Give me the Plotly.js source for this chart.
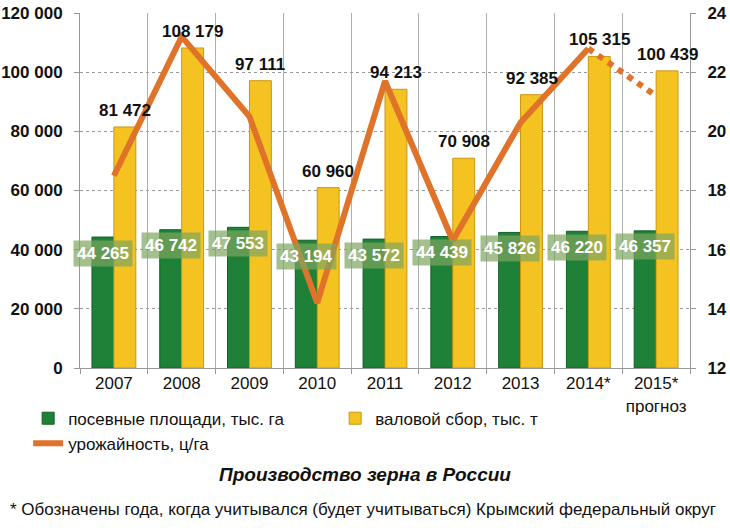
<!DOCTYPE html>
<html>
<head>
<meta charset="utf-8">
<script src="https://cdn.plot.ly/plotly-3.0.1.min.js"></script>
<style>html,body{margin:0;padding:0;background:#fff;}#chart{width:730px;height:528px;}</style>
</head>
<body>
<div id="chart"></div>
<script>
var categories = ["2007", "2008", "2009", "2010", "2011", "2012", "2013", "2014*", "2015*"];
var tickLabels = ["2007", "2008", "2009", "2010", "2011", "2012", "2013", "2014*", "2015*<br>прогноз"];
var sownArea = [44265, 46742, 47553, 43194, 43572, 44439, 45826, 46220, 46357];
var grossHarvest = [81472, 108179, 97111, 60960, 94213, 70908, 92385, 105315, 100439];
var yieldCats = ["2007", "2008", "2009", "2010", "2011", "2012", "2013", "2014*"];
var yieldValues = [18.5, 23.2, 20.5, 14.2, 21.7, 16.3, 20.3, 22.8];
var forecastCats = ["2014*", "2015*"];
var forecastYield = [22.8, 21.2];
var leftTicks = [0, 20000, 40000, 60000, 80000, 100000, 120000];
var rightTicks = [12, 14, 16, 18, 20, 22, 24];

function fmt(v) { return String(v).replace(/\B(?=(\d{3})+(?!\d))/g, " "); }

var SANS = "Liberation Sans, Arial, sans-serif";
var catIndex = categories.map(function (c, i) { return i; });

var traces = [
  {
    type: "bar", name: "посевные площади, тыс. га", x: categories, y: sownArea,
    marker: {color: "#1f8138", line: {color: "#136024", width: 1}},
    hoverinfo: "skip"
  },
  {
    type: "bar", name: "валовой сбор, тыс. т", x: categories, y: grossHarvest,
    marker: {color: "#f4c322", line: {color: "#c9980f", width: 1}},
    hoverinfo: "skip"
  },
  {
    type: "scatter", mode: "lines", name: "урожайность, ц/га", x: yieldCats, y: yieldValues,
    yaxis: "y2", line: {color: "#e0732a", width: 6}, hoverinfo: "skip"
  },
  {
    type: "scatter", mode: "lines", showlegend: false, x: forecastCats, y: forecastYield,
    yaxis: "y2", line: {color: "#e0732a", width: 6, dash: "dot"}, hoverinfo: "skip"
  }
];

var annotations = [];
for (var i = 0; i < categories.length; i++) {
  annotations.push({
    x: catIndex[i], y: grossHarvest[i], xref: "x", yref: "y",
    text: fmt(grossHarvest[i]), showarrow: false, xshift: 11, yshift: 5, yanchor: "bottom",
    font: {family: SANS, size: 17, color: "#111", weight: "bold"}
  });
  annotations.push({
    x: catIndex[i], y: sownArea[i], xref: "x", yref: "y",
    text: fmt(sownArea[i]), showarrow: false, xshift: -11, yshift: -16, yanchor: "middle",
    bgcolor: "rgba(125,165,95,0.7)", borderpad: 3,
    font: {family: SANS, size: 17, color: "#ffffff", weight: "bold"}
  });
}
annotations.push({
  xref: "paper", yref: "paper", x: 0.467, y: -0.301, xanchor: "center", yanchor: "middle", showarrow: false,
  text: "<b><i>Производство зерна в России</i></b>",
  font: {family: SANS, size: 19, color: "#111"}
});
annotations.push({
  xref: "paper", yref: "paper", x: 0.464, y: -0.4, xanchor: "center", yanchor: "middle", showarrow: false,
  text: "* Обозначены года, когда учитывался (будет учитываться) Крымский федеральный округ",
  font: {family: SANS, size: 17, color: "#111"}
});

var layout = {
  width: 730, height: 528,
  margin: {l: 80, r: 40, t: 13, b: 160},
  paper_bgcolor: "#fff", plot_bgcolor: "#fff",
  barmode: "group", bargap: 0.353, bargroupgap: 0,
  showlegend: true,
  legend: {
    orientation: "h", x: -0.085, xanchor: "left", y: -0.092, yanchor: "top",
    entrywidth: 262, entrywidthmode: "pixels", tracegroupgap: 0,
    font: {family: SANS, size: 17, color: "#111"}, bgcolor: "rgba(0,0,0,0)"
  },
  xaxis: {
    type: "category", range: [-0.5, categories.length - 0.5],
    tickmode: "array", tickvals: catIndex, ticktext: tickLabels, tickangle: 0,
    tickson: "boundaries", showgrid: true, gridcolor: "#b0b0b0", gridwidth: 1,
    ticks: "outside", ticklen: 5, tickcolor: "#999",
    showline: true, linecolor: "#999", linewidth: 1,
    tickfont: {family: SANS, size: 17, color: "#111"}
  },
  yaxis: {
    range: [0, 120000], tickvals: leftTicks, ticktext: leftTicks.map(fmt),
    showgrid: true, gridcolor: "#9a9a9a", griddash: "dot", gridwidth: 1,
    showline: true, linecolor: "#999", linewidth: 1,
    ticks: "outside", ticklen: 5, tickcolor: "#999", ticklabelstandoff: 8,
    zeroline: false,
    tickfont: {family: SANS, size: 17, color: "#111", weight: "bold"}
  },
  yaxis2: {
    range: [12, 24], tickvals: rightTicks, overlaying: "y", side: "right",
    showgrid: false, showline: true, linecolor: "#999", linewidth: 1,
    ticks: "outside", ticklen: 5, tickcolor: "#999", ticklabelstandoff: 8,
    zeroline: false,
    tickfont: {family: SANS, size: 17, color: "#111", weight: "bold"}
  },
  annotations: annotations
};

Plotly.newPlot("chart", traces, layout, {displayModeBar: false, staticPlot: true});
</script>
</body>
</html>
